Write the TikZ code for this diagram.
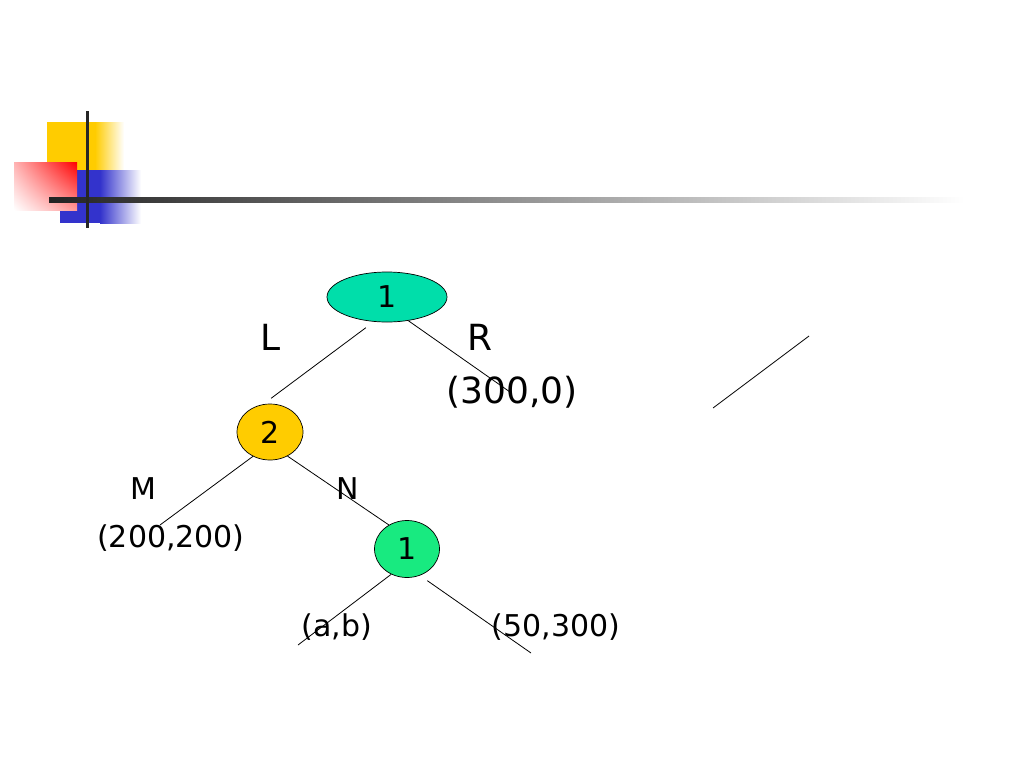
\documentclass[tikz,border=0pt]{standalone}
\usepackage{fontspec}
\setmainfont{DejaVu Sans}
\usetikzlibrary{shapes.geometric,shadings}
\definecolor{topgreen}{RGB}{0,222,170}
\definecolor{nodeyellow}{RGB}{255,204,0}
\definecolor{lowgreen}{RGB}{24,234,128}
\definecolor{decoyellow}{RGB}{255,204,0}
\definecolor{decoblue}{RGB}{51,51,204}
\definecolor{linegray}{RGB}{35,35,35}
\tikzset{
  gamenode/.style={ellipse, draw=black, line width=0.7pt, inner sep=0pt,
    font=\fontsize{30}{32}\selectfont},
  biglabel/.style={inner sep=0pt, font=\fontsize{36}{40}\selectfont},
  smalllabel/.style={inner sep=0pt, font=\fontsize{30}{32}\selectfont},
  branch/.style={draw=black, line width=0.8pt}
}
\begin{document}
\begin{tikzpicture}[x=1pt,y=-1pt]
\useasboundingbox (0,0) rectangle (1024,768);
% decoration
\fill[decoyellow] (47,122) rectangle (95,170);
\shade[left color=decoyellow, right color=white] (95,122) rectangle (124,170);
\fill[decoblue] (60,170) rectangle (100,223);
\shade[left color=decoblue, right color=white] (100,170) rectangle (141,223);
\shade[upper right=red, upper left=red!30, lower left=white, lower right=red!40] (14,162) rectangle (77,210);
\shade[left color=linegray, right color=white] (49,197.5) rectangle (965,202.5);
\fill[black!85] (85.5,111) rectangle (88.5,228);
% nodes
\node[gamenode, fill=topgreen, minimum width=120pt, minimum height=50pt] (top) at (387,297) {1};
\node[gamenode, fill=nodeyellow, minimum width=66pt, minimum height=56pt] (n2) at (270,432) {2};
\node[gamenode, fill=lowgreen, minimum width=65pt, minimum height=57pt] (n3) at (407,549) {1};
% labels
\node[biglabel] (lL) at (271,337) {L};
\node[biglabel] (lR) at (480,337) {R};
\node[biglabel] (p300) at (512,392) {(300,0)};
\node[smalllabel] (lM) at (143,489) {M};
\node[smalllabel] (lN) at (348,489) {N};
\node[smalllabel] (p200) at (171,538) {(200,200)};
\node[smalllabel] (pab) at (337,627) {(a,b)};
\node[smalllabel] (p50) at (556,627) {(50,300)};
% free ends
\coordinate (eR) at (510,392);
\coordinate (eM) at (160,525);
\coordinate (eA) at (298,645);
\coordinate (eB) at (531,653);
\coordinate (s1) at (809,336);
\coordinate (s2) at (713,408);
% branches
\draw[branch, shorten <=10pt, shorten >=10pt] (top.242) -- (n2.104);
\draw[branch] (top.312) -- (eR);
\draw[branch] (n2.235) -- (eM);
\draw[branch] (n2.306) -- (n3.127);
\draw[branch] (n3.238) -- (eA);
\draw[branch, shorten <=9pt] (n3.296) -- (eB);
\draw[branch] (s1) -- (s2);
\end{tikzpicture}
\end{document}
